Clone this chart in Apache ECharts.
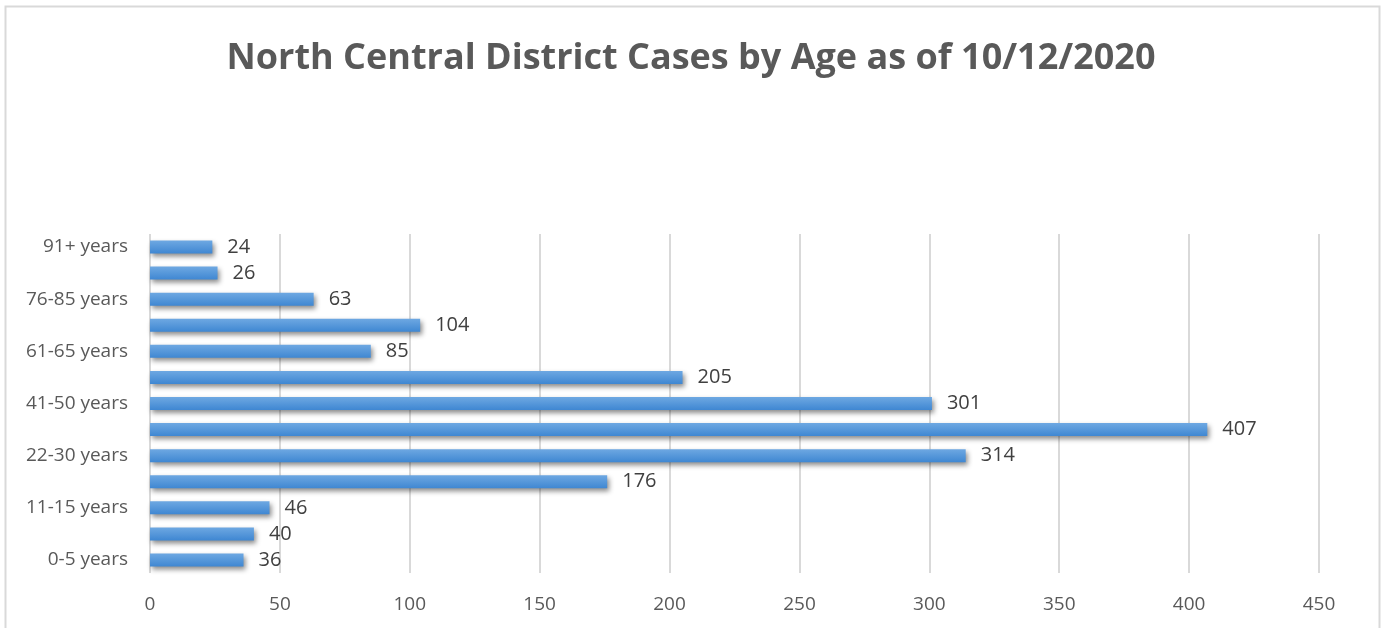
<!DOCTYPE html>
<html>
<head>
<meta charset="utf-8">
<script src="https://cdn.jsdelivr.net/npm/echarts@6/dist/echarts.min.js"></script>
<style>
html,body{margin:0;padding:0;background:#fff;}
#chart{width:1382px;height:628px;}
</style>
</head>
<body>
<div id="chart"></div>
<script>
const titleText = 'North Central District Cases by Age as of 10/12/2020';
const categories = ['0-5 years','6-10 years','11-15 years','16-21 years','22-30 years','31-40 years','41-50 years','51-60 years','61-65 years','66-75 years','76-85 years','86-90 years','91+ years'];
const cases = [36, 40, 46, 176, 314, 407, 301, 205, 85, 104, 63, 26, 24];
const xTicks = {min: 0, max: 450, interval: 50};

const chart = echarts.init(document.getElementById('chart'), null, {renderer: 'canvas'});
chart.setOption({
  animation: false,
  backgroundColor: '#ffffff',
  graphic: [{
    type: 'rect',
    shape: {x: 5.5, y: 6.5, width: 1374, height: 640},
    style: {fill: 'none', stroke: '#d9d9d9', lineWidth: 2},
    silent: true
  }],
  title: {
    text: titleText,
    left: 'center',
    top: 36,
    textStyle: {fontFamily: 'Open Sans', fontWeight: 'bold', fontSize: 36, color: '#595959'}
  },
  grid: {left: 150, right: 63, top: 234, bottom: 55, containLabel: false},
  xAxis: {
    type: 'value',
    min: xTicks.min, max: xTicks.max, interval: xTicks.interval,
    axisLine: {show: false},
    axisTick: {show: false},
    splitLine: {show: true, lineStyle: {color: '#d9d9d9', width: 2}},
    axisLabel: {margin: 22, fontFamily: 'Open Sans', fontSize: 19, color: '#595959'}
  },
  yAxis: {
    type: 'category',
    data: categories,
    axisLine: {show: false},
    axisTick: {show: false},
    axisLabel: {interval: 1, margin: 22, fontFamily: 'Open Sans', fontSize: 19, color: '#595959'}
  },
  series: [{
    type: 'bar',
    data: cases,
    barWidth: 13,
    itemStyle: {
      color: new echarts.graphic.LinearGradient(0, 0, 0, 1, [
        {offset: 0, color: '#6ea8e2'},
        {offset: 1, color: '#3f87d2'}
      ]),
      shadowColor: 'rgba(0,0,0,0.45)',
      shadowBlur: 5,
      shadowOffsetX: 2,
      shadowOffsetY: 3
    },
    label: {
      show: true,
      position: 'right',
      distance: 15,
      fontFamily: 'Open Sans',
      fontSize: 20,
      color: '#404040'
    }
  }]
});
</script>
</body>
</html>
